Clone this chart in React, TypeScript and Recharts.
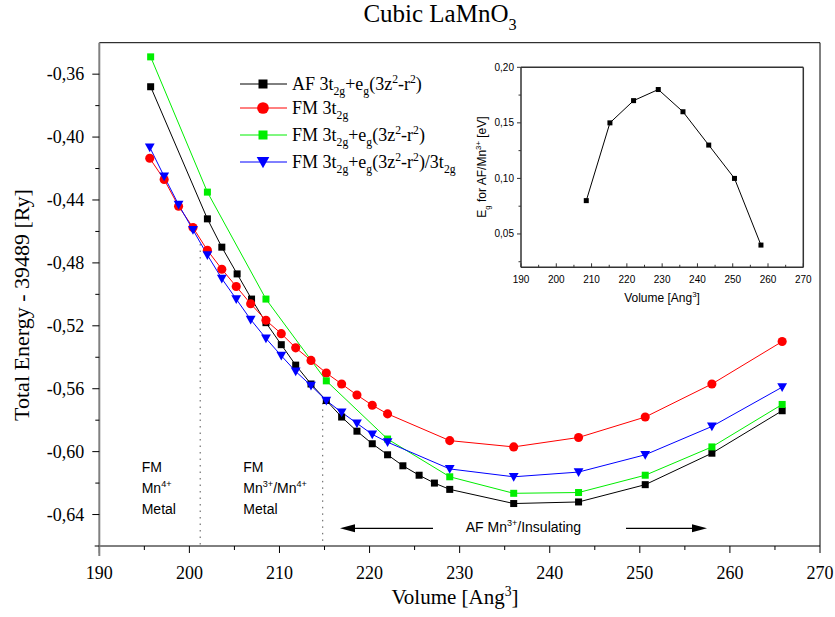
import React from 'react';
import { LineChart, Line, XAxis, YAxis, ReferenceLine, Legend } from 'recharts';

// main panel: total energy vs volume
const afVolume = [195.7, 202.0, 203.6, 205.3, 206.9, 208.5, 210.2, 211.8, 213.5, 215.2, 216.9, 218.6, 220.3, 222.0, 223.7, 225.5, 227.2, 228.9, 236.0, 243.2, 250.6, 258.0, 265.8];
const afEnergy = [-0.368, -0.452, -0.47, -0.487, -0.503, -0.518, -0.532, -0.545, -0.557, -0.5675, -0.578, -0.587, -0.595, -0.602, -0.609, -0.615, -0.62, -0.624, -0.633, -0.632, -0.621, -0.601, -0.574];

const fmVolume = [195.6, 197.2, 198.8, 200.4, 202.0, 203.6, 205.2, 206.8, 208.5, 210.2, 211.8, 213.5, 215.2, 216.9, 218.6, 220.3, 222.0, 228.9, 236.0, 243.2, 250.6, 258.0, 265.8];
const fmEnergy = [-0.4135, -0.427, -0.444, -0.4575, -0.472, -0.484, -0.495, -0.506, -0.5165, -0.525, -0.534, -0.542, -0.55, -0.557, -0.564, -0.5705, -0.576, -0.593, -0.597, -0.591, -0.578, -0.557, -0.53];
const fmMixEnergy = [-0.4065, -0.425, -0.443, -0.459, -0.475, -0.49, -0.503, -0.516, -0.528, -0.539, -0.549, -0.558, -0.5675, -0.575, -0.582, -0.589, -0.594, -0.611, -0.616, -0.613, -0.602, -0.584, -0.559];

const fmEgVolume = [195.7, 202.0, 208.5, 215.2, 222.0, 228.9, 236.0, 243.2, 250.6, 258.0, 265.8];
const fmEgEnergy = [-0.349, -0.435, -0.503, -0.555, -0.592, -0.616, -0.6265, -0.626, -0.615, -0.597, -0.57];

// inset: gap of AF phase
const gapVolume = [208.5, 215.2, 221.9, 228.9, 235.9, 243.2, 250.5, 258.0];
const gapValue = [0.08, 0.15, 0.17, 0.18, 0.16, 0.13, 0.1, 0.04];

const xTicks = [190, 195, 200, 205, 210, 215, 220, 225, 230, 235, 240, 245, 250, 255, 260, 265, 270];
const yTicks = [-0.64, -0.62, -0.6, -0.58, -0.56, -0.54, -0.52, -0.5, -0.48, -0.46, -0.44, -0.42, -0.4, -0.38, -0.36];
const insetYTicks = [0.025, 0.05, 0.075, 0.1, 0.125, 0.15, 0.175, 0.2];

const SERIF = '"Liberation Serif", "Times New Roman", serif';
const SANS = '"Liberation Sans", Arial, sans-serif';

const zip = (vs: number[], es: number[]) => vs.map((v, i) => ({ v, e: es[i] }));
const comma = (v: number) => v.toFixed(2).replace('.', ',');

// parts: [text, 0 normal | 1 sub | 2 sup]
type Part = [string, number];
const Rich = ({ parts, size }: { parts: Part[]; size: number }) => {
  let cur = 0;
  return (
    <>
      {parts.map(([t, k], i) => {
        const target = k === 1 ? size * 0.3 : k === 2 ? -size * 0.4 : 0;
        const dy = target - cur;
        cur = target;
        return (
          <tspan key={i} dy={dy} fontSize={k ? size * 0.65 : size}>
            {t}
          </tspan>
        );
      })}
    </>
  );
};

const marker = (shape: string, color: string, cx: number, cy: number, s: number, key?: any) => {
  if (shape === 'circle') return <circle key={key} cx={cx} cy={cy} r={s * 0.65} fill={color} />;
  if (shape === 'tri')
    return <polygon key={key} points={`${cx - s * 0.7},${cy - s * 0.55} ${cx + s * 0.7},${cy - s * 0.55} ${cx},${cy + s * 0.7}`} fill={color} />;
  return <rect key={key} x={cx - s / 2} y={cy - s / 2} width={s} height={s} fill={color} />;
};

const dotFn = (shape: string, color: string, s: number) => (p: any) => {
  if (p.cx == null || p.cy == null) return <g key={p.index} />;
  return marker(shape, color, p.cx, p.cy, s, p.index);
};

const series = [
  {
    name: 'af', color: '#000000', shape: 'square', data: zip(afVolume, afEnergy),
    label: [['AF 3t', 0], ['2g', 1], ['+e', 0], ['g', 1], ['(3z', 0], ['2', 2], ['-r', 0], ['2', 2], [')', 0]] as Part[],
  },
  {
    name: 'fm', color: '#ff0000', shape: 'circle', data: zip(fmVolume, fmEnergy),
    label: [['FM 3t', 0], ['2g', 1]] as Part[],
  },
  {
    name: 'fmEg', color: '#00ee00', shape: 'square', data: zip(fmEgVolume, fmEgEnergy),
    label: [['FM 3t', 0], ['2g', 1], ['+e', 0], ['g', 1], ['(3z', 0], ['2', 2], ['-r', 0], ['2', 2], [')', 0]] as Part[],
  },
  {
    name: 'fmMix', color: '#0000ff', shape: 'tri', data: zip(fmVolume, fmMixEnergy),
    label: [['FM 3t', 0], ['2g', 1], ['+e', 0], ['g', 1], ['(3z', 0], ['2', 2], ['-r', 0], ['2', 2], [')/3t', 0], ['2g', 1]] as Part[],
  },
];

const legendRowY = [14, 38, 65, 92];

const LegendBox = (props: any) => {
  const payload = props.payload || [];
  return (
    <svg width={240} height={110} style={{ overflow: 'visible' }}>
      {payload.map((entry: any, i: number) => {
        const s = series.find((x) => x.name === entry.value);
        if (!s) return null;
        const y = legendRowY[i];
        return (
          <g key={s.name}>
            <line x1={3} x2={50} y1={y} y2={y} stroke={s.color} strokeWidth={1} />
            {marker(s.shape, s.color, 26, y, 9)}
            <text x={55} y={y + 6} fontFamily={SERIF} fontSize={18} fill="#000">
              <Rich parts={s.label} size={18} />
            </text>
          </g>
        );
      })}
    </svg>
  );
};

const MainXTick = (p: any) => {
  const v = p.payload.value;
  const major = v % 10 === 0;
  return (
    <g>
      <line x1={p.x} x2={p.x} y1={p.y} y2={p.y + (major ? 7 : 4)} stroke="#000" />
      {major && (
        <text x={p.x} y={p.y + 33} textAnchor="middle" fontFamily={SERIF} fontSize={18} fill="#000">
          {v}
        </text>
      )}
    </g>
  );
};

const MainYTick = (p: any) => {
  const v = p.payload.value;
  const major = Math.round(v * 100) % 4 === 0;
  return (
    <g>
      <line x1={p.x} x2={p.x - (major ? 7 : 4)} y1={p.y} y2={p.y} stroke="#000" />
      {major && (
        <text x={p.x - 15} y={p.y + 6} textAnchor="end" fontFamily={SERIF} fontSize={18} fill="#000">
          {comma(v)}
        </text>
      )}
    </g>
  );
};

const InsetXTick = (p: any) => {
  const v = p.payload.value;
  const major = v % 10 === 0;
  return (
    <g>
      <line x1={p.x} x2={p.x} y1={p.y} y2={p.y - (major ? 4 : 2.5)} stroke="#333" />
      {major && (
        <text x={p.x} y={p.y + 16} textAnchor="middle" fontFamily={SANS} fontSize={10} fill="#000">
          {v}
        </text>
      )}
    </g>
  );
};

const InsetYTick = (p: any) => {
  const v = p.payload.value;
  const major = Math.round(v * 1000) % 50 === 0;
  return (
    <g>
      <line x1={p.x} x2={p.x - (major ? 4 : 2.5)} y1={p.y} y2={p.y} stroke="#333" />
      {major && (
        <text x={p.x - 7} y={p.y + 3.5} textAnchor="end" fontFamily={SANS} fontSize={10} fill="#000">
          {comma(v)}
        </text>
      )}
    </g>
  );
};

const Overlay = () => (
  <svg width={835} height={617} style={{ position: 'absolute', left: 0, top: 0, pointerEvents: 'none' }}>
    <text x={440} y={22} textAnchor="middle" fontFamily={SERIF} fontSize={25} fill="#000">
      <Rich parts={[['Cubic LaMnO', 0], ['3', 1]]} size={25} />
    </text>
    <text x={455} y={604} textAnchor="middle" fontFamily={SERIF} fontSize={21} fill="#000">
      <Rich parts={[['Volume [Ang', 0], ['3', 2], [']', 0]]} size={21} />
    </text>
    <text x={29} y={305} textAnchor="middle" transform="rotate(-90 29 305)" fontFamily={SERIF} fontSize={22} fill="#000">
      Total Energy - 39489 [Ry]
    </text>

    {/* Origin-style axis overhang at the lower left corner */}
    <line x1={99.3} x2={99.3} y1={546} y2={556} stroke="#808080" strokeWidth={2} />
    <line x1={94.7} x2={99.3} y1={546} y2={546} stroke="#000" />

    <g fontFamily={SANS} fontSize={14} fill="#000">
      <text x={141.7} y={471.5}>FM</text>
      <text x={141.7} y={492.5}><Rich parts={[['Mn', 0], ['4+', 2]]} size={14} /></text>
      <text x={141.7} y={514}>Metal</text>
      <text x={243.3} y={471.5}>FM</text>
      <text x={243.3} y={492.5}><Rich parts={[['Mn', 0], ['3+', 2], ['/Mn', 0], ['4+', 2]]} size={14} /></text>
      <text x={243.3} y={514}>Metal</text>
      <text x={465.7} y={532}><Rich parts={[['AF Mn', 0], ['3+', 2], ['/Insulating', 0]]} size={14} /></text>
    </g>
    <line x1={433} x2={352} y1={528.3} y2={528.3} stroke="#000" strokeWidth={1.2} />
    <polygon points="340,528.3 355,524.3 355,532.3" fill="#000" />
    <line x1={626} x2={695} y1={528.3} y2={528.3} stroke="#000" strokeWidth={1.2} />
    <polygon points="707,528.3 692,524.3 692,532.3" fill="#000" />

    <text x={486} y={167} textAnchor="middle" transform="rotate(-90 486 167)" fontFamily={SANS} fontSize={12} fill="#000">
      <Rich parts={[['E', 0], ['g', 1], [' for AF/Mn', 0], ['3+', 2], [' [eV]', 0]]} size={12} />
    </text>
    <text x={662} y={302} textAnchor="middle" fontFamily={SANS} fontSize={12} fill="#000">
      <Rich parts={[['Volume [Ang', 0], ['3', 2], [']', 0]]} size={12} />
    </text>
  </svg>
);

const App: React.FC = () => {
  return (
    <div style={{ position: 'absolute', left: 0, top: 0, width: 835, height: 617, background: '#fff', overflow: 'hidden' }}>
      <LineChart width={835} height={617} margin={{ top: 42.7, right: 15, bottom: 0, left: 0 }}>
        <XAxis
          dataKey="v"
          type="number"
          domain={[190, 270]}
          ticks={xTicks}
          interval={0}
          height={71}
          tickSize={0}
          tickMargin={0}
          tickLine={false}
          axisLine={{ stroke: '#000' }}
          tick={(p: any) => <MainXTick {...p} />}
          allowDataOverflow
        />
        <YAxis
          type="number"
          domain={[-0.66, -0.34]}
          ticks={yTicks}
          interval={0}
          width={99.3}
          tickSize={0}
          tickMargin={0}
          tickLine={false}
          axisLine={{ stroke: '#808080', strokeWidth: 2 }}
          tick={(p: any) => <MainYTick {...p} />}
          allowDataOverflow
        />
        <ReferenceLine y={-0.34} stroke="#000" />
        <ReferenceLine x={270} stroke="#000" />
        <ReferenceLine segment={[{ x: 201.2, y: -0.468 }, { x: 201.2, y: -0.66 }]} stroke="#555" strokeDasharray="1.5 5" />
        <ReferenceLine segment={[{ x: 214.8, y: -0.569 }, { x: 214.8, y: -0.66 }]} stroke="#555" strokeDasharray="1.5 5" />
        {series.map((s) => (
          <Line
            key={s.name}
            name={s.name}
            data={s.data}
            dataKey="e"
            stroke={s.color}
            strokeWidth={1}
            dot={dotFn(s.shape, s.color, 7)}
            activeDot={false}
            isAnimationActive={false}
          />
        ))}
        <Legend
          layout="horizontal"
          verticalAlign="middle"
          align="center"
          wrapperStyle={{ left: 237, top: 70, width: 240, height: 110 }}
          content={LegendBox}
        />
      </LineChart>

      <div style={{ position: 'absolute', left: 440, top: 50 }}>
        <LineChart width={380} height={280} margin={{ top: 17.3, right: 16.7, bottom: 32.7, left: 41 }}>
          <XAxis
            dataKey="v"
            type="number"
            domain={[190, 270]}
            ticks={xTicks}
            interval={0}
            height={30}
            tickSize={0}
            tickMargin={0}
            tickLine={false}
            axisLine={{ stroke: '#333', strokeWidth: 1.5 }}
            tick={(p: any) => <InsetXTick {...p} />}
            allowDataOverflow
          />
          <YAxis
            type="number"
            domain={[0.02, 0.2]}
            ticks={insetYTicks}
            interval={0}
            width={40}
            tickSize={0}
            tickMargin={0}
            tickLine={false}
            axisLine={{ stroke: '#333', strokeWidth: 1.5 }}
            tick={(p: any) => <InsetYTick {...p} />}
            allowDataOverflow
          />
          <ReferenceLine y={0.2} stroke="#333" strokeWidth={1.5} />
          <ReferenceLine x={270} stroke="#333" strokeWidth={1.5} />
          <Line
            data={zip(gapVolume, gapValue)}
            dataKey="e"
            stroke="#000"
            strokeWidth={1}
            dot={dotFn('square', '#000', 5)}
            activeDot={false}
            isAnimationActive={false}
          />
        </LineChart>
      </div>

      <Overlay />
    </div>
  );
};

export default App;
